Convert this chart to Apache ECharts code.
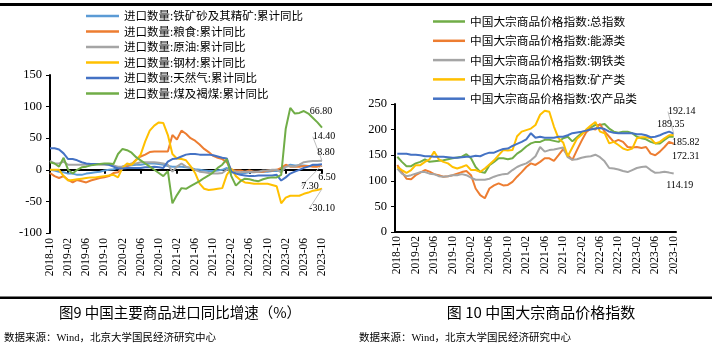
<!DOCTYPE html>
<html>
<head>
<meta charset="utf-8">
<script src="https://cdn.jsdelivr.net/npm/echarts@6/dist/echarts.min.js"></script>
<style>
  html, body { margin: 0; padding: 0; background: #fff; }
  #chart { width: 716px; height: 352px; }
</style>
</head>
<body>
<div id="chart"></div>
<script>
// 月份 2018-10 ~ 2023-10
const months = [
  '2018-10', '2018-11', '2018-12',
  '2019-01', '2019-02', '2019-03', '2019-04', '2019-05', '2019-06', '2019-07', '2019-08', '2019-09', '2019-10', '2019-11', '2019-12',
  '2020-01', '2020-02', '2020-03', '2020-04', '2020-05', '2020-06', '2020-07', '2020-08', '2020-09', '2020-10', '2020-11', '2020-12',
  '2021-01', '2021-02', '2021-03', '2021-04', '2021-05', '2021-06', '2021-07', '2021-08', '2021-09', '2021-10', '2021-11', '2021-12',
  '2022-01', '2022-02', '2022-03', '2022-04', '2022-05', '2022-06', '2022-07', '2022-08', '2022-09', '2022-10', '2022-11', '2022-12',
  '2023-01', '2023-02', '2023-03', '2023-04', '2023-05', '2023-06', '2023-07', '2023-08', '2023-09', '2023-10'
]

// 图9 进口同比 (%)
const ironOre = [0, -1, -3, -4, -6, -6, -8, -8, -6, -5, -4, -3, -1, 0, 1, 3, 5, 6, 7, 8, 8, 9, 10, 10, 9, 8, 6, 5, 5, 5, 4, 3, 1, 0, -1, -2, -2, -1, 0, 3, -4, -5, -5, -5, -4, -4, -3, -3, -3, -2, -2, -1, 5, 8, 7, 7, 7, 6, 6, 7, 7.3]
const grain = [-5, -10, -13, -10, -16, -20, -16, -18, -20, -17, -15, -13, -12, -10, -5, -4, 5, 6, 9, 16, 21, 24, 28, 29, 29, 29, 29, 55, 48, 62, 57, 50, 46, 40, 33, 28, 22, 19, 17, 12, 0, -1, -1, -3, -1, -3, -3, -3, -1, -1, 0, 3, 8, 5, 5, 5, 6, 6, 5, 5, 6.5]
const crude = [14, 10, 10, 13, 8, 8, 8, 8, 8, 9, 9, 8, 8, 8, 7, 5, 5, 8, 10, 10, 12, 12, 12, 12, 11, 10, 8, -3, 5, 10, 5, 3, 0, -3, -4, -5, -6, -6, -5, 0, 0, -3, -4, -3, -3, -3, -3, -1, -1, 0, 0, -4, 5, 6, 5, 8, 12, 13, 14, 14, 14.4]
const steel = [0, 0, 0, -10, -17, -16, -15, -14, -13, -12, -12, -11, -10, -9, -8, -12, 3, 10, 8, 15, 24, 45, 62, 70, 75, 74, 55, 25, 18, 17, 15, 6, -5, -22, -30, -32, -31, -30, -29, -8, 2, -10, -16, -20, -21, -22, -22, -22, -22, -24, -26, -53, -44, -41, -41, -41, -38, -36, -33, -32, -30.1]
const natGas = [34, 34, 32, 26, 17, 17, 15, 12, 10, 9, 9, 9, 9, 8, 5, 2, 2, 3, 3, 3, 3, 4, 4, 5, 4, 3, 13, 17, 18, 21, 24, 25, 25, 24, 24, 24, 23, 21, 19, 18, -3, -6, -8, -9, -10, -10, -9, -9, -9, -9, -8, -17, -12, -6, -3, 0, 3, 5, 8, 8, 8.8]
const coal = [12, 10, 5, 19, 0, -6, 0, 4, 5, 7, 8, 9, 10, 10, 9, 25, 33, 31, 27, 20, 15, 10, 5, 0, -5, -10, -2, -53, -40, -29, -30, -26, -22, -18, -13, -9, -4, 3, 8, 17, -10, -25, -18, -14, -15, -17, -18, -15, -13, -12, -12, -8, 65, 98, 89, 90, 93, 89, 82, 75, 66.8]

// 图10 大宗商品价格指数
const cpiTotal = [147, 137, 128.5, 128.5, 134, 137, 142, 137, 138, 139, 140, 142, 144, 145.5, 147, 152, 144, 127, 117.5, 115.5, 130.6, 137, 144, 144, 142, 144, 153, 159, 167, 173, 176, 176, 180, 180, 178, 176, 183, 186, 177, 185, 193, 198, 204, 209, 209, 211, 202, 196, 194, 196, 196, 193, 186, 183, 181, 176, 173, 173, 180, 186, 185.82]
const cpiEnergy = [131, 117, 104, 103, 111, 116, 121, 118, 113, 111, 108, 109, 111, 114, 117, 119, 111, 85, 72, 66, 85, 91, 95, 91, 92, 98, 108, 117, 127, 134, 131, 137, 144, 144, 139, 150, 162, 150, 141, 160, 178, 195, 202, 200, 211, 196, 186, 176, 180, 176, 166, 165, 166, 164, 166, 153, 150, 157, 166, 176, 172.31]
const cpiSteel = [124, 114, 109, 111, 114, 117, 117, 114, 113, 109, 108, 109, 111, 111, 113, 111, 106, 102, 102, 102, 104, 108, 111, 113, 114, 121, 127, 131, 134, 140, 148, 166, 157, 160, 161, 163, 165, 146, 141, 142, 145, 147, 148, 151, 146, 138, 125, 124, 122, 119, 117, 121, 125, 127, 128, 121, 115.5, 116, 117.5, 116, 114.19]
const cpiMineral = [127, 121, 115.5, 121, 130.6, 130.6, 137, 142, 157, 142, 137, 134, 127, 124, 127, 130.6, 121, 121, 117.5, 124, 132, 140, 150, 160, 159, 160, 187, 196, 199, 202, 209, 229, 237, 235, 206, 183, 175, 148, 165, 182, 190, 200, 208, 215, 196, 193, 173, 176, 170, 163, 160, 163, 183, 185, 185, 183, 173, 176, 183, 189, 189.35]
const cpiAgri = [153, 153, 153, 151, 151, 150, 148, 148, 147, 147, 147, 146, 145, 145, 146, 147, 147, 149, 148, 152, 155, 155, 159, 162, 163, 168, 172, 176, 181, 193, 184, 186, 184, 184, 184, 186, 186, 189, 193, 194.5, 196, 198, 200, 202, 203, 201, 196, 194, 193, 193, 193, 193, 191, 191, 189, 185, 186, 189, 193, 196, 192.14]

const leftNames = ['进口数量:铁矿砂及其精矿:累计同比', '进口数量:粮食:累计同比', '进口数量:原油:累计同比', '进口数量:钢材:累计同比', '进口数量:天然气:累计同比', '进口数量:煤及褐煤:累计同比']
const rightNames = ['中国大宗商品价格指数:总指数', '中国大宗商品价格指数:能源类', '中国大宗商品价格指数:钢铁类', '中国大宗商品价格指数:矿产类', '中国大宗商品价格指数:农产品类']

const serif = '"Liberation Serif", "Noto Sans CJK SC"'
const cjk = '"Noto Sans CJK SC"'

// end label: [dx, dy, leader line]
function makeSeries(name, data, color, xi, yi, end) {
  const pts = data.map((v, i) => (i === data.length - 1 ? { value: v, label: { show: true } } : v))
  return {
    name,
    type: 'line',
    xAxisIndex: xi,
    yAxisIndex: yi,
    data: pts,
    showSymbol: true,
    showAllSymbol: true,
    symbol: 'circle',
    symbolSize: 0,
    lineStyle: { color, width: 2 },
    itemStyle: { color },
    label: {
      show: false,
      position: 'inside',
      formatter: p => p.value.toFixed(2),
      fontFamily: serif,
      fontSize: 10,
      color: '#000'
    },
    labelLayout: { dx: end[0], dy: end[1] },
    labelLine: { show: end[2], lineStyle: { color: '#BFBFBF', width: 1 } },
    emphasis: { disabled: true },
    silent: true
  }
}

const series = [
  makeSeries(leftNames[0], ironOre, '#5B9BD5', 0, 0, [-12, 21, true]),
  makeSeries(leftNames[1], grain, '#ED7D31', 0, 0, [5, 12, false]),
  makeSeries(leftNames[2], crude, '#A5A5A5', 0, 0, [2, -24, true]),
  makeSeries(leftNames[3], steel, '#FFC000', 0, 0, [0, 20, true]),
  makeSeries(leftNames[4], natGas, '#4472C4', 0, 0, [4, -12, false]),
  makeSeries(leftNames[5], coal, '#70AD47', 0, 0, [-1, -16, false]),
  makeSeries(rightNames[0], cpiTotal, '#70AD47', 2, 1, [12, 6, false]),
  makeSeries(rightNames[1], cpiEnergy, '#ED7D31', 2, 1, [12, 13, false]),
  makeSeries(rightNames[2], cpiSteel, '#A5A5A5', 2, 1, [6, 12, false]),
  makeSeries(rightNames[3], cpiMineral, '#FFC000', 2, 1, [-3, -11, false]),
  makeSeries(rightNames[4], cpiAgri, '#4472C4', 2, 1, [8, -22, true])
]

const xLabel = { interval: 3, rotate: 90, fontFamily: serif, fontSize: 11.5, color: '#000' }
const yLabel = { margin: 8, fontFamily: serif, fontSize: 12.5, color: '#000' }
const blackLine = { color: '#000', width: 2 }

const chart = echarts.init(document.getElementById('chart'))
chart.setOption({
  animation: false,
  backgroundColor: '#fff',
  grid: [
    { left: 50, right: 394, top: 75, bottom: 119 },
    { left: 395, right: 40, top: 104, bottom: 120 }
  ],
  legend: [
    {
      data: leftNames,
      orient: 'vertical',
      left: 86,
      top: 10,
      padding: 0,
      icon: 'rect',
      itemWidth: 33,
      itemHeight: 2.5,
      itemGap: 3.5,
      textStyle: { fontFamily: cjk, fontSize: 11.5, lineHeight: 12, color: '#000' }
    },
    {
      data: rightNames,
      orient: 'vertical',
      left: 433,
      top: 15,
      padding: 0,
      icon: 'rect',
      itemWidth: 32,
      itemHeight: 2.5,
      itemGap: 6.3,
      textStyle: { fontFamily: cjk, fontSize: 11.7, lineHeight: 13, color: '#000' }
    }
  ],
  xAxis: [
    {
      gridIndex: 0, type: 'category', data: months, boundaryGap: false, position: 'bottom',
      axisLine: { show: false, onZero: false },
      axisTick: { show: false },
      axisLabel: Object.assign({ margin: 5 }, xLabel)
    },
    {
      gridIndex: 0, type: 'category', data: months, boundaryGap: false, position: 'bottom',
      axisLine: { onZero: true, lineStyle: blackLine },
      axisTick: { show: true, interval: i => i % 8 === 4, length: 4, lineStyle: blackLine },
      axisLabel: { show: false }
    },
    {
      gridIndex: 1, type: 'category', data: months, boundaryGap: true,
      axisLine: { lineStyle: blackLine },
      axisTick: { show: false },
      axisLabel: Object.assign({ margin: 4 }, xLabel)
    }
  ],
  yAxis: [
    {
      gridIndex: 0, type: 'value', min: -100, max: 150, interval: 50,
      axisLine: { show: true, lineStyle: blackLine },
      axisTick: { show: true, length: 4, lineStyle: { color: '#000' } },
      splitLine: { show: false },
      axisLabel: yLabel
    },
    {
      gridIndex: 1, type: 'value', min: 0, max: 250, interval: 50,
      axisLine: { show: true, lineStyle: blackLine },
      axisTick: { show: true, length: 4, lineStyle: { color: '#000' } },
      splitLine: { show: false },
      axisLabel: yLabel
    }
  ],
  graphic: [
    { type: 'rect', shape: { x: 0, y: 3, width: 712, height: 3 }, style: { fill: '#000' } },
    { type: 'rect', shape: { x: 0, y: 296.5, width: 712, height: 2.5 }, style: { fill: '#000' } },
    {
      type: 'text', x: 180, y: 312,
      style: { text: '图9 中国主要商品进口同比增速（%）', font: '14.5px ' + cjk, align: 'center', verticalAlign: 'middle', fill: '#000' }
    },
    {
      type: 'text', x: 541, y: 312,
      style: { text: '图 10 中国大宗商品价格指数', font: '15px ' + cjk, align: 'center', verticalAlign: 'middle', fill: '#000' }
    },
    {
      type: 'text', x: 4, y: 338,
      style: { text: '数据来源：Wind，北京大学国民经济研究中心', font: '10.5px ' + serif, align: 'left', verticalAlign: 'middle', fill: '#000' }
    },
    {
      type: 'text', x: 359, y: 338,
      style: { text: '数据来源：Wind，北京大学国民经济研究中心', font: '10.5px ' + serif, align: 'left', verticalAlign: 'middle', fill: '#000' }
    }
  ],
  series
})
</script>
</body>
</html>
